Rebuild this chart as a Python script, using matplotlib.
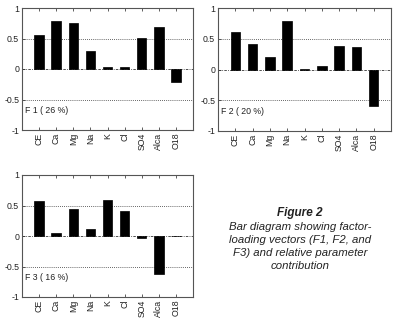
import matplotlib
matplotlib.use("Agg")
import matplotlib.pyplot as plt

plt.rcParams['font.family'] = ['Liberation Sans', 'DejaVu Sans']
plt.rcParams['axes.unicode_minus'] = False

categories = ["CE", "Ca", "Mg", "Na", "K", "Cl", "SO4", "Alca", "O18"]
f1 = [0.55, 0.79, 0.755, 0.30, 0.04, 0.04, 0.51, 0.69, -0.22]
f2 = [0.61, 0.41, 0.21, 0.79, 0.015, 0.065, 0.39, 0.36, -0.60]
f3 = [0.58, 0.05, 0.44, 0.12, 0.59, 0.41, -0.03, -0.63, -0.005]
labels = ["F 1 ( 26 %)", "F 2 ( 20 %)", "F 3 ( 16 %)"]
yticks = [-1, -0.5, 0, 0.5, 1]
yticklabels = ["-1", "-0.5", "0", "0.5", "1"]

W, H = 397, 329
fig = plt.figure(figsize=(W / 100, H / 100), dpi=100)

def box(x0, y0, x1, y1):
    return [x0 / W, 1 - y1 / H, (x1 - x0) / W, (y1 - y0) / H]

rects = [box(22, 8, 193, 130), box(218, 8, 391, 131), box(22, 175, 193, 297)]
series = [f1, f2, f3]

for rect, vals, lab in zip(rects, series, labels):
    ax = fig.add_axes(rect)
    x = list(range(1, len(categories) + 1))
    ax.bar(x, vals, width=0.55, color="black", edgecolor="black", linewidth=0.5, zorder=3)
    ax.set_xlim(0, 10)
    ax.set_ylim(-1, 1)
    ax.set_xticks(x)
    ax.set_xticklabels(categories, rotation=90, fontsize=6.3)
    ax.set_yticks(yticks)
    ax.set_yticklabels(yticklabels, fontsize=6.3)
    for yv in [-0.5, 0, 0.5]:
        ax.axhline(yv, color="#333333", linestyle=(0, (1, 1.5)) if yv != 0 else (0, (3, 1.5, 1, 1.5)),
                   linewidth=0.6, zorder=2)
    ax.tick_params(axis="both", direction="in", length=2.5, width=0.6, color="#444444",
                   top=True, right=False, pad=2, labelcolor="#222222")
    for s in ax.spines.values():
        s.set_color("#555555")
        s.set_linewidth(0.8)
    ax.text(0.15, -0.68, lab, fontsize=6.3, color="#222222", va="center", ha="left")

fig.text(300 / W, 1 - 213 / H, "Figure 2", fontsize=8.5, fontweight="bold", style="italic",
         ha="center", va="center", color="#222222")
caption = ["Bar diagram showing factor-", "loading vectors (F1, F2, and",
           "F3) and relative parameter", "contribution"]
for i, line in enumerate(caption):
    fig.text(300 / W, 1 - (227 + 13 * i) / H, line, fontsize=8.2, style="italic",
             ha="center", va="center", color="#222222")

fig.savefig("out.png", dpi=100)
